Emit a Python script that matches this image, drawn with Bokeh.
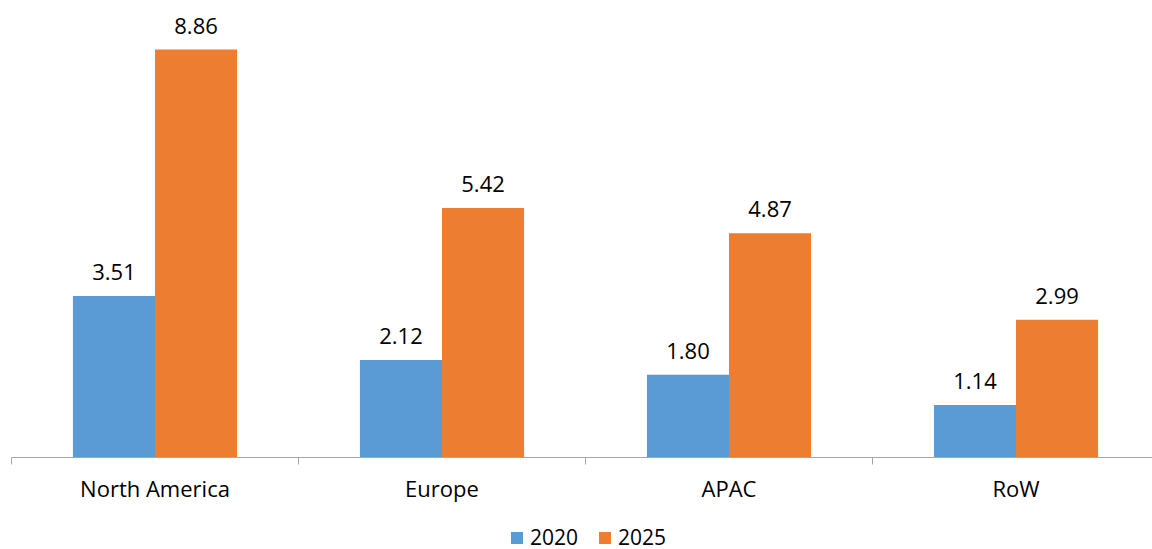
from bokeh.plotting import figure
from bokeh.models import ColumnDataSource, Range1d, FixedTicker, Legend, LegendItem
from bokeh.layouts import column
from bokeh.core.properties import value
from bokeh.embed import file_html
from bokeh.resources import INLINE

categories = ["North America", "Europe", "APAC", "RoW"]
series_names = ["2020", "2025"]
values_2020 = [3.51, 2.12, 1.80, 1.14]
values_2025 = [8.86, 5.42, 4.87, 2.99]
colors = ["#5B9BD5", "#ED7D31"]

FONT = "Open Sans"
bar_w = 0.286
centers = [i + 0.5 for i in range(len(categories))]

p = figure(width=1152, height=505, output_backend="svg", toolbar_location=None,
           x_range=Range1d(0, 1141 / 287.0), y_range=Range1d(0, 9.926),
           min_border_left=11, min_border_right=0, min_border_top=0, min_border_bottom=0)
p.outline_line_color = None
p.xgrid.visible = False
p.ygrid.visible = False
p.yaxis.visible = False

series = [values_2020, values_2025]
offsets = [-bar_w / 2, bar_w / 2]
for vals, off, col in zip(series, offsets, colors):
    src = ColumnDataSource(dict(x=[c + off for c in centers], top=vals,
                                lab=["{:.2f}".format(v) for v in vals]))
    p.vbar(x="x", top="top", bottom=0, width=bar_w, source=src,
           fill_color=col, line_color=None)
    p.text(x="x", y="top", text="lab", source=src, y_offset=-16,
           text_align="center", text_baseline="bottom",
           text_font=value(FONT), text_font_size="22px", text_color="#000000")

ax = p.xaxis[0]
ax.ticker = FixedTicker(ticks=centers, minor_ticks=list(range(len(categories) + 1)))
ax.major_label_overrides = {c: name for c, name in zip(centers, categories)}
ax.major_tick_out = 0
ax.major_tick_in = 0
ax.minor_tick_out = 7
ax.minor_tick_in = 0
ax.minor_tick_line_color = "#A6A6A6"
ax.axis_line_color = "#A6A6A6"
ax.axis_line_width = 1
ax.major_label_standoff = 8
ax.major_label_text_font = FONT
ax.major_label_text_font_size = "22px"
ax.major_label_text_color = "#000000"

# legend strip (bars lie outside its visible range; they only feed the legend)
lg = figure(width=1152, height=56, output_backend="svg", toolbar_location=None,
            x_range=Range1d(100, 101), y_range=Range1d(100, 101),
            min_border_left=0, min_border_right=0, min_border_top=0, min_border_bottom=0)
lg.outline_line_color = None
lg.xgrid.visible = False
lg.ygrid.visible = False
lg.xaxis.visible = False
lg.yaxis.visible = False
items = []
for name, vals, col in zip(series_names, series, colors):
    r = lg.vbar(x=centers, top=vals, bottom=0, width=0.1, fill_color=col, line_color=None)
    items.append(LegendItem(label=name, renderers=[r]))
legend = Legend(items=items, orientation="horizontal", location=(498, 10),
                label_text_font=FONT, label_text_font_size="21px", label_text_color="#000000",
                label_height=15, glyph_width=15, glyph_height=15, label_standoff=6, spacing=19,
                border_line_color=None, background_fill_alpha=0, margin=0, padding=0)
lg.add_layout(legend, "center")

layout = column(p, lg, spacing=0)
open("out.html", "w").write(file_html(layout, INLINE))
